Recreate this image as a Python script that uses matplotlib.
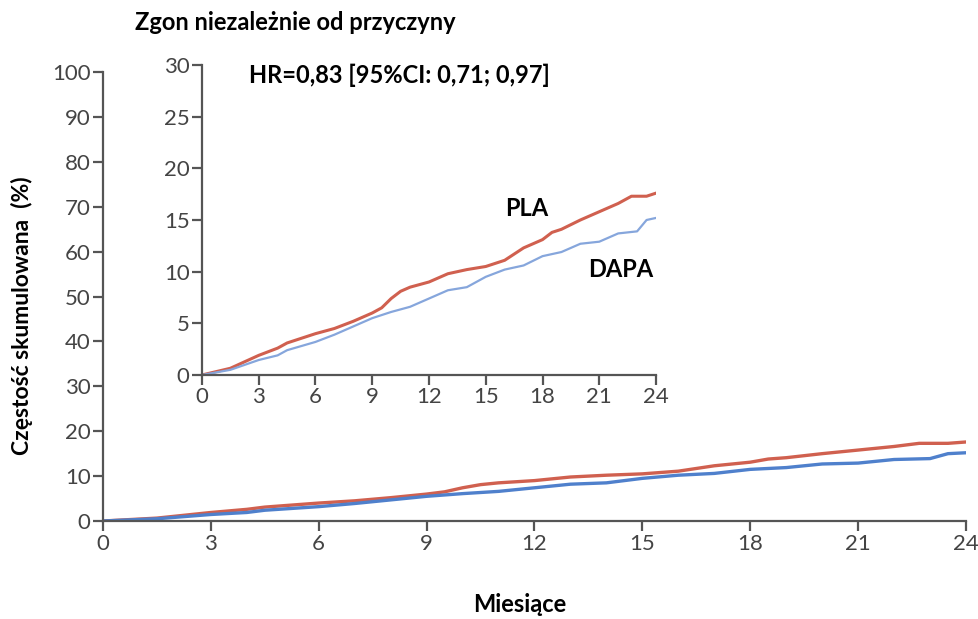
import matplotlib
matplotlib.use("Agg")
import matplotlib.pyplot as plt

""" Data read off the picture (months, cumulative %) """

months = [0, 1.5, 3, 4, 4.5, 6, 7, 8, 9, 9.5, 10, 10.5, 11, 12, 13, 14, 15,
          16, 17, 18, 18.5, 19, 20, 21, 22, 22.7, 23.5, 24]
pla = [0, 0.65, 1.9, 2.6, 3.1, 4.0, 4.5, 5.2, 6.0, 6.5, 7.4, 8.1, 8.5, 9.0,
       9.8, 10.2, 10.5, 11.1, 12.3, 13.1, 13.8, 14.1, 15.0, 15.8, 16.6, 17.3,
       17.3, 17.6]

months_dapa = [0, 1.5, 3, 4, 4.5, 6, 7, 8, 9, 10, 11, 12, 13, 14, 15, 16, 17,
               18, 19, 20, 21, 22, 23, 23.5, 24]
dapa = [0, 0.5, 1.45, 1.9, 2.4, 3.2, 3.9, 4.7, 5.5, 6.1, 6.6, 7.4, 8.2, 8.5,
        9.5, 10.2, 10.6, 11.5, 11.9, 12.7, 12.9, 13.7, 13.9, 15.0, 15.2]

x_ticks = [0, 3, 6, 9, 12, 15, 18, 21, 24]
y_ticks_main = list(range(0, 101, 10))
y_ticks_inset = [0, 5, 10, 15, 20, 25, 30]

""" Fonts and colours """

text_font = ["Lato", "DejaVu Sans"]

red = "#d0604f"
blue_main = "#4f80cc"
blue_inset = "#86a6dc"
axis_col = "#555555"


def style_axes(ax, yticks):
    for side in ["top", "right"]:
        ax.spines[side].set_visible(False)
    for side in ["left", "bottom"]:
        ax.spines[side].set_color(axis_col)
        ax.spines[side].set_linewidth(1.6)
    ax.set_xticks(x_ticks)
    ax.set_yticks(yticks)
    ax.tick_params(colors=axis_col, width=1.6, length=7, labelsize=16,
                   labelcolor="#444444", pad=2)
    for lab in ax.get_xticklabels() + ax.get_yticklabels():
        lab.set_family(text_font)


fig = plt.figure(figsize=(9.79, 6.19), dpi=100)

# main chart
ax = fig.add_axes([0.1052, 0.1583, 0.8815, 0.7254])
ax.plot(months, pla, color=red, lw=2.4)
ax.plot(months_dapa, dapa, color=blue_main, lw=2.4)
ax.set_xlim(0, 24)
ax.set_ylim(0, 100)
style_axes(ax, y_ticks_main)
ax.set_xlabel("Miesiące", fontsize=17, fontweight="bold", family=text_font,
              va="baseline")
ax.xaxis.set_label_coords(0.483, -0.203)
ax.set_ylabel("Częstość skumulowana  (%)", fontsize=16.5, fontweight="bold",
              family=text_font)
ax.yaxis.set_label_coords(-0.081, 0.457)

# inset
axi = fig.add_axes([0.2063, 0.3942, 0.4638, 0.5008])
axi.plot(months, pla, color=red, lw=2.2)
axi.plot(months_dapa, dapa, color=blue_inset, lw=1.6)
axi.set_xlim(0, 24)
axi.set_ylim(0, 30)
style_axes(axi, y_ticks_inset)

axi.text(2.5, 29, "HR=0,83 [95%CI: 0,71; 0,97]", fontsize=17,
         fontweight="bold", family=text_font, va="center")
axi.text(16.0, 15.4, "PLA", fontsize=17, fontweight="bold", family=text_font)
axi.text(20.4, 9.5, "DAPA", fontsize=17, fontweight="bold", family=text_font)

fig.text(0.138, 0.963, "Zgon niezależnie od przyczyny", fontsize=17,
         fontweight="bold", family=text_font, va="center")

fig.savefig("out.png", dpi=100)
